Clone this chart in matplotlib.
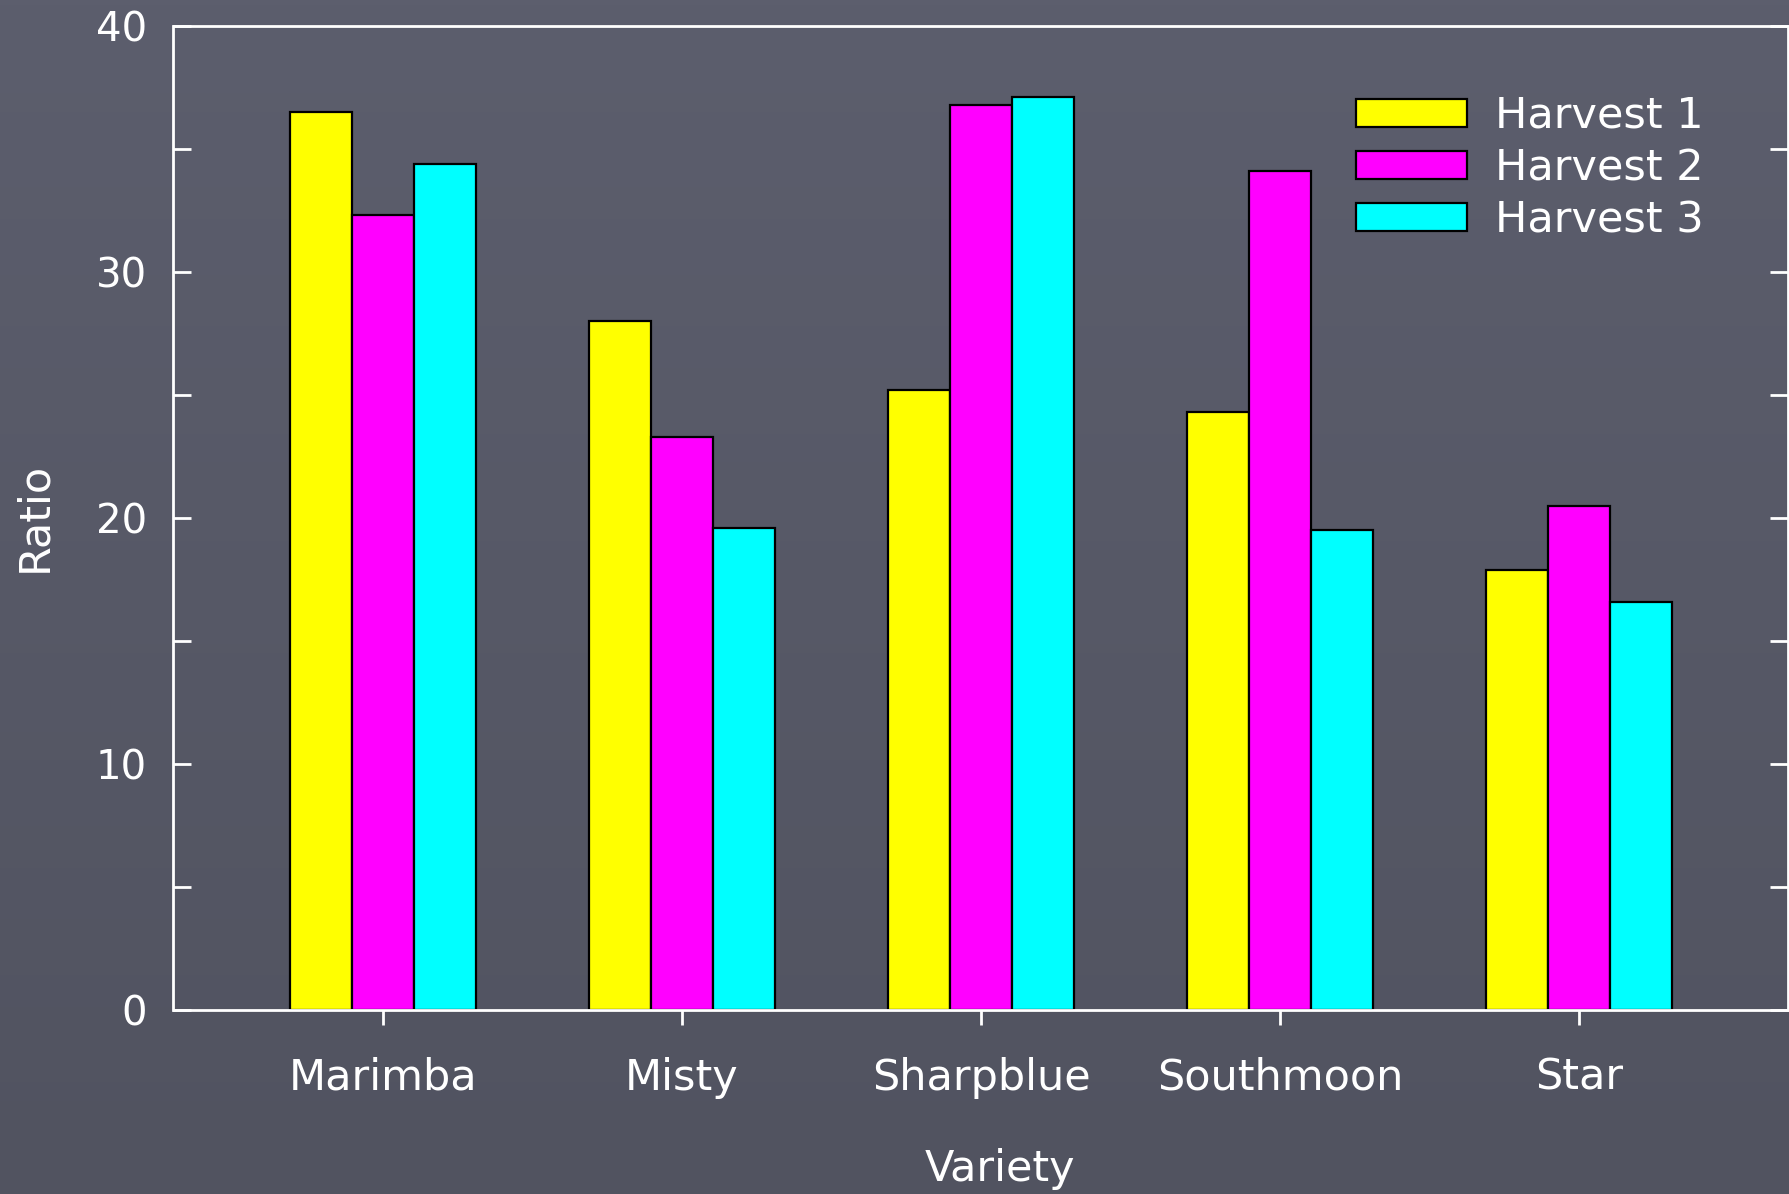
import numpy as np
import matplotlib
matplotlib.use("Agg")
import matplotlib.pyplot as plt
from matplotlib.ticker import MultipleLocator, FuncFormatter

varieties = ["Marimba", "Misty", "Sharpblue", "Southmoon", "Star"]
harvest1 = [36.5, 28.0, 25.2, 24.3, 17.9]
harvest2 = [32.3, 23.3, 36.8, 34.1, 20.5]
harvest3 = [34.4, 19.6, 37.1, 19.5, 16.6]
series_names = ["Harvest 1", "Harvest 2", "Harvest 3"]
colors = ["#ffff00", "#ff00ff", "#00ffff"]

plt.rcParams['font.family'] = ['DejaVu Sans']

fig = plt.figure(figsize=(17.9, 11.94), dpi=100)

# slide-like background, slightly darker toward the bottom
bg = fig.add_axes([0, 0, 1, 1], zorder=-1)
grad = np.linspace(0, 1, 256).reshape(-1, 1)
top = np.array([92, 94, 109]) / 255
bot = np.array([81, 83, 96]) / 255
img = top + (bot - top) * grad[:, :, None]
bg.imshow(img, aspect='auto', extent=[0, 1, 0, 1])
bg.axis('off')

ax = fig.add_axes([173.5 / 1790, 184 / 1194, 1615 / 1790, 984 / 1194])
ax.set_facecolor('none')

x = np.arange(len(varieties))
w = 0.207
for i, (vals, name, c) in enumerate(zip([harvest1, harvest2, harvest3], series_names, colors)):
    ax.bar(x + (i - 1) * w, vals, width=w, color=c, edgecolor='black', linewidth=1.6, label=name)

ax.set_xlim(-0.7, 4.7)
ax.set_ylim(0, 40)

for s in ax.spines.values():
    s.set_color('white')
    s.set_linewidth(2)

ax.yaxis.set_major_locator(MultipleLocator(5))
ax.yaxis.set_major_formatter(FuncFormatter(lambda v, p: f"{int(v)}" if v % 10 == 0 else ""))
ax.tick_params(axis='y', direction='in', length=13, width=2, color='white',
               labelcolor='white', labelsize=29, pad=19, right=True)
ax.set_xticks(x)
ax.set_xticklabels(varieties)
ax.tick_params(axis='x', direction='out', length=11, width=2, color='white',
               labelcolor='white', labelsize=31, pad=22.5)

ax.set_ylabel("Ratio", color='white', fontsize=31, va='center')
ax.yaxis.set_label_coords(-0.0864, 0.501)
ax.set_xlabel("Variety", color='white', fontsize=31, va='center')
ax.xaxis.set_label_coords(0.512, -0.162)

leg = ax.legend(loc='upper left', bbox_to_anchor=(0.732, 0.93), frameon=False,
                fontsize=31, handlelength=2.58, handleheight=0.62,
                handletextpad=0.65, labelspacing=0.24, borderpad=0, borderaxespad=0)
for t in leg.get_texts():
    t.set_color('white')

fig.savefig("out.png", dpi=100)
